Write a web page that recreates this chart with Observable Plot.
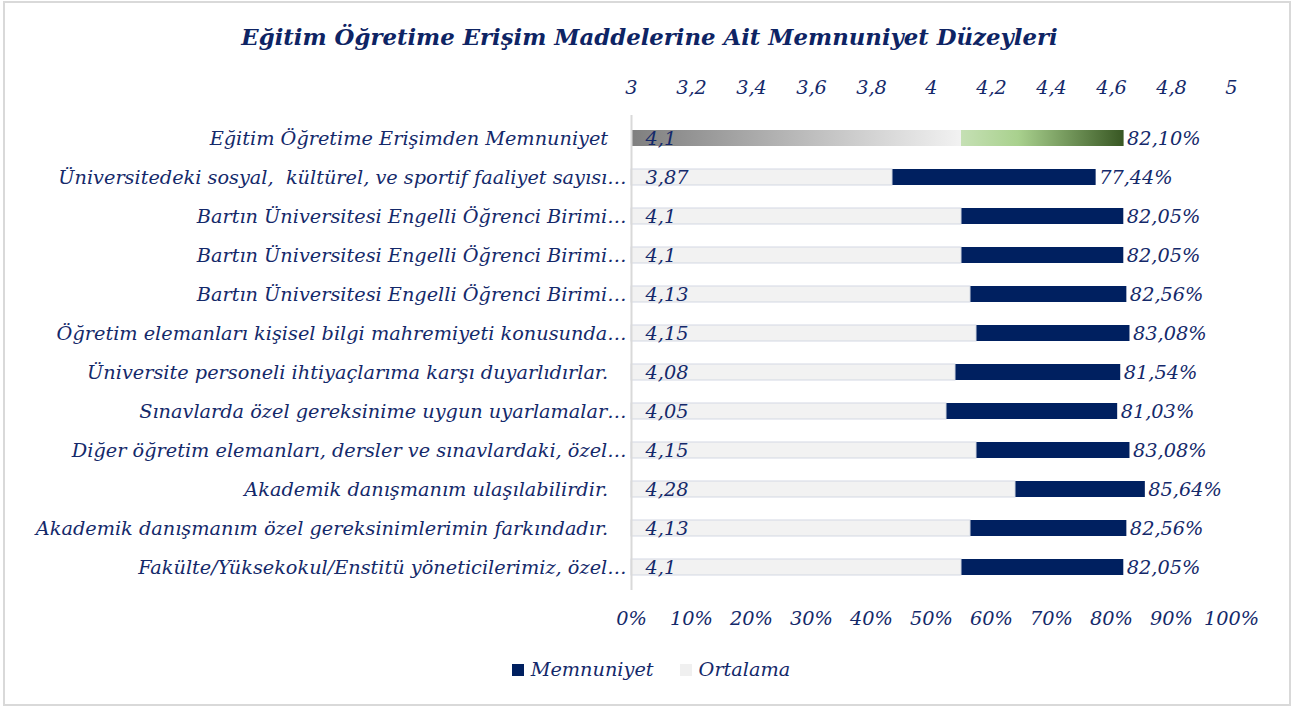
<!DOCTYPE html>
<html><head><meta charset="utf-8">
<script src="https://cdn.jsdelivr.net/npm/d3@7"></script>
<script src="https://cdn.jsdelivr.net/npm/@observablehq/plot@0.6"></script>
<style>
body{margin:0;background:#fff;}
#wrap{position:relative;width:1299px;height:709px;overflow:hidden;font-family:"DejaVu Serif",serif;font-style:italic;color:#14296a;}
#frame{position:absolute;left:3px;top:1px;width:1288px;height:705px;border:2px solid #d9d9d9;box-sizing:border-box;}
#title{position:absolute;left:0;top:19px;width:1299px;text-align:center;font-weight:bold;font-size:22.8px;line-height:36px;color:#0e2464;}
#chart{position:absolute;left:0;top:60px;}
#legend{position:absolute;left:0;top:656px;width:1302px;display:flex;justify-content:center;align-items:center;font-size:19.3px;line-height:28px;}
.sw{display:inline-block;width:12px;height:12px;margin-right:7px;}
.item{display:flex;align-items:center;margin:0 13px;}
</style></head>
<body>
<div id="wrap">
  <div id="frame"></div>
  <div id="title">Eğitim Öğretime Erişim Maddelerine Ait Memnuniyet Düzeyleri</div>
  <div id="chart"></div>
  <div id="legend">
    <div class="item"><span class="sw" style="background:#002060"></span>Memnuniyet</div>
    <div class="item"><span class="sw" style="background:#f0f0f0"></span>Ortalama</div>
  </div>
</div>
<script>
const labels = [
  "Eğitim Öğretime Erişimden Memnuniyet",
  "Üniversitedeki sosyal,  kültürel, ve sportif faaliyet sayısı…",
  "Bartın Üniversitesi Engelli Öğrenci Birimi…",
  "Bartın Üniversitesi Engelli Öğrenci Birimi…",
  "Bartın Üniversitesi Engelli Öğrenci Birimi…",
  "Öğretim elemanları kişisel bilgi mahremiyeti konusunda…",
  "Üniversite personeli ihtiyaçlarıma karşı duyarlıdırlar.",
  "Sınavlarda özel gereksinime uygun uyarlamalar…",
  "Diğer öğretim elemanları, dersler ve sınavlardaki, özel…",
  "Akademik danışmanım ulaşılabilirdir.",
  "Akademik danışmanım özel gereksinimlerimin farkındadır.",
  "Fakülte/Yüksekokul/Enstitü yöneticilerimiz, özel…"
];
const means = [4.1, 3.87, 4.1, 4.1, 4.13, 4.15, 4.08, 4.05, 4.15, 4.28, 4.13, 4.1];
const pcts  = [82.10, 77.44, 82.05, 82.05, 82.56, 83.08, 81.54, 81.03, 83.08, 85.64, 82.56, 82.05];
const meanTickLabels = ["3","3,2","3,4","3,6","3,8","4","4,2","4,4","4,6","4,8","5"];
const pctTickLabels = ["0%","10%","20%","30%","40%","50%","60%","70%","80%","90%","100%"];
const tickVals = d3.range(0, 101, 10);

const rows = labels.map((label, i) => ({
  i, label, mean: means[i], pct: pcts[i], meanPct: (means[i] - 3) / 2 * 100
}));
const fmtMean = d => String(d.mean).replace(".", ",");
const fmtPct = d => d.pct.toFixed(2).replace(".", ",") + "%";
const txt = "#14296a";
const FS = 19.3;

function defs() {
  const g = d3.create("svg:defs");
  const gg = g.append("linearGradient").attr("id", "gGray").attr("x1", 0).attr("x2", 1).attr("y1", 0).attr("y2", 0);
  gg.append("stop").attr("offset", "0").attr("stop-color", "#7f7f7f");
  gg.append("stop").attr("offset", "1").attr("stop-color", "#f2f2f2");
  const gr = g.append("linearGradient").attr("id", "gGreen").attr("x1", 0).attr("x2", 1).attr("y1", 0).attr("y2", 0);
  gr.append("stop").attr("offset", "0").attr("stop-color", "#c5e0b4");
  gr.append("stop").attr("offset", "0.35").attr("stop-color", "#a9d18e");
  gr.append("stop").attr("offset", "1").attr("stop-color", "#385723");
  return g.node();
}

const chart = Plot.plot({
  width: 1299,
  height: 580,
  marginLeft: 631,
  marginRight: 68,
  marginTop: 55,
  marginBottom: 50,
  style: {fontFamily: "'DejaVu Serif', serif", fontStyle: "italic", fontSize: FS + "px", color: txt, background: "transparent", whiteSpace: "pre"},
  x: {domain: [0, 100]},
  y: {domain: d3.range(labels.length), paddingInner: 0.6, paddingOuter: 0.3},
  marks: [
    defs,
    Plot.barX(rows.slice(1), {x1: 0, x2: "pct", y: "i", fill: "#002060"}),
    Plot.barX(rows.slice(1), {x1: 0, x2: "meanPct", y: "i", fill: "#f2f2f2", stroke: "#d3d8e3", strokeWidth: 1}),
    Plot.barX(rows.slice(0, 1), {x1: "meanPct", x2: "pct", y: "i", fill: "#a9d18e", ariaDescription: "firstGreen"}),
    Plot.barX(rows.slice(0, 1), {x1: 0, x2: "meanPct", y: "i", fill: "#bbbbbb", ariaDescription: "firstGray"}),
    Plot.ruleX([0], {stroke: "#d9d9d9", strokeWidth: 2}),
    Plot.text(rows, {x: 0, y: "i", text: fmtMean, textAnchor: "start", dx: 14, fill: txt, fontSize: FS}),
    Plot.text(rows, {x: "pct", y: "i", text: fmtPct, textAnchor: "start", dx: 3, fill: txt, fontSize: FS}),
    Plot.axisX(tickVals, {anchor: "top", tickSize: 0, tickPadding: 22, tickFormat: d => meanTickLabels[d / 10], fontSize: FS, label: null}),
    Plot.axisX(tickVals, {anchor: "bottom", tickSize: 0, tickPadding: 21, tickFormat: d => pctTickLabels[d / 10], fontSize: FS, label: null}),
    Plot.axisY({tickSize: 0, tickPadding: 5, fontSize: FS, label: null,
      tickFormat: i => labels[i].endsWith("…") ? labels[i] : labels[i] + "\u00a0\u00a0\u00a0"})
  ]
});
const sel = d3.select(chart);
sel.selectAll('[aria-description="firstGreen"], [aria-description="firstGreen"] rect').attr("fill", "url(#gGreen)");
sel.selectAll('[aria-description="firstGray"], [aria-description="firstGray"] rect').attr("fill", "url(#gGray)");
document.getElementById("chart").appendChild(chart);
</script>
</body></html>
